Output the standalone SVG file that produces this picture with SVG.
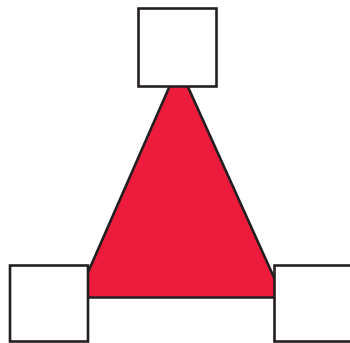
<svg xmlns="http://www.w3.org/2000/svg" width="350" height="343" viewBox="0 0 350 343">
<style>
.box{fill:#ffffff;stroke:#231f20;stroke-width:2.6}
.tri{fill:#ed1c3c;stroke:#231f20;stroke-width:2.6;stroke-linejoin:miter}
</style>
<rect width="350" height="343" fill="#ffffff"/>
<g id="connectors">
<polygon class="tri" points="178.5,66 77,297.5 283,297.5"/>
</g>
<g id="node-top"><rect class="box" x="138.5" y="8.5" width="78" height="78"/></g>
<g id="node-left"><rect class="box" x="10" y="265.5" width="78" height="76"/></g>
<g id="node-right"><rect class="box" x="274.5" y="265.5" width="78" height="76"/></g>
</svg>
